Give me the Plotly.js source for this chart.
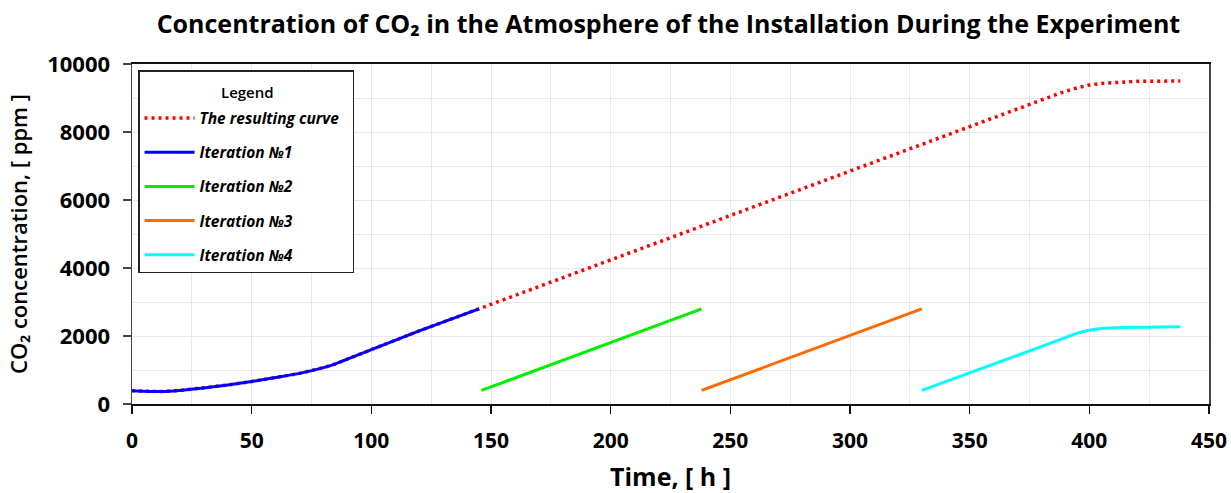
<!DOCTYPE html>
<html>
<head>
<meta charset="utf-8">
<script src="https://cdn.plot.ly/plotly-3.0.1.min.js"></script>
<style>html,body{margin:0;padding:0;background:#fff;}#chart{width:1231px;height:493px;}</style>
</head>
<body>
<div id="chart"></div>
<script>
// Resulting curve (dotted red)
const resultX = [0, 5, 12, 20, 30, 40, 50, 60, 70, 80, 85, 100, 120, 145, 388, 395, 400, 405, 412, 420, 438];
const resultY = [390, 375, 365, 400, 470, 560, 660, 780, 900, 1070, 1180, 1600, 2150, 2800, 9150, 9300, 9380, 9430, 9470, 9490, 9500];
// Iteration 1
const it1X = [0, 5, 12, 20, 30, 40, 50, 60, 70, 80, 85, 100, 120, 145];
const it1Y = [390, 375, 365, 400, 470, 560, 660, 780, 900, 1070, 1180, 1600, 2150, 2800];
// Iteration 2
const it2X = [146, 238];
const it2Y = [400, 2800];
// Iteration 3
const it3X = [238, 330];
const it3Y = [400, 2800];
// Iteration 4
const it4X = [330, 388, 395, 400, 405, 415, 438];
const it4Y = [400, 1900, 2080, 2170, 2220, 2250, 2270];

const names = ['The resulting curve\u00a0\u00a0', 'Iteration №1', 'Iteration №2', 'Iteration №3', 'Iteration №4'];
const legendTitle = 'Legend';
const xTicks = [0, 50, 100, 150, 200, 250, 300, 350, 400, 450];
const yTicks = [0, 2000, 4000, 6000, 8000, 10000];

const traces = [
  {x: resultX, y: resultY, name: names[0], mode: 'lines', legendgroup: 'a',
   line: {color: '#ff0000', width: 3.5, dash: '3px,4px'}},
  {x: it1X, y: it1Y, name: names[1], mode: 'lines', legendgroup: 'b',
   line: {color: '#0000ff', width: 3, shape: 'spline', smoothing: 0.6}},
  {x: it2X, y: it2Y, name: names[2], mode: 'lines', legendgroup: 'c',
   line: {color: '#00ee00', width: 3}},
  {x: it3X, y: it3Y, name: names[3], mode: 'lines', legendgroup: 'd',
   line: {color: '#ff6a00', width: 3}},
  {x: it4X, y: it4Y, name: names[4], mode: 'lines', legendgroup: 'e',
   line: {color: '#00ffff', width: 3, shape: 'spline', smoothing: 0.6}}
];

const layout = {
  width: 1231, height: 493,
  margin: {l: 132, r: 22, t: 64, b: 89},
  paper_bgcolor: '#fff', plot_bgcolor: '#fff',
  font: {family: 'Open Sans, sans-serif', color: '#000'},
  title: {text: '<b>Concentration of CO₂ in the Atmosphere of the Installation During the Experiment</b>',
          font: {size: 25, family: 'Open Sans, sans-serif', color: '#000'},
          x: 0.543, xanchor: 'center', y: 0.95, yanchor: 'middle'},
  xaxis: {
    range: [0, 450], tickvals: xTicks, ticktext: xTicks.map(String),
    showgrid: true, gridcolor: '#e8e8e8', gridwidth: 1,
    minor: {dtick: 25, showgrid: true, gridcolor: '#e8e8e8', gridwidth: 1},
    zeroline: false,
    showline: true, linecolor: '#111', linewidth: 2, mirror: true,
    ticks: 'outside', ticklen: 8, tickwidth: 1.5, tickcolor: '#111',
    ticklabelstandoff: 9,
    tickfont: {size: 21, family: 'Open Sans, sans-serif', weight: 'bold'},
    title: {text: '<b>Time, [ h ]</b>', font: {size: 25}, standoff: 15}
  },
  yaxis: {
    range: [0, 10000], tickvals: yTicks, ticktext: yTicks.map(String),
    showgrid: true, gridcolor: '#e8e8e8', gridwidth: 1,
    minor: {dtick: 1000, showgrid: true, gridcolor: '#e8e8e8', gridwidth: 1},
    zeroline: false,
    showline: true, linecolor: '#444', linewidth: 1.5, mirror: true,
    ticks: 'outside', ticklen: 8, tickwidth: 1.5, tickcolor: '#444',
    ticklabelstandoff: 8,
    tickfont: {size: 22, family: 'Open Sans, sans-serif', weight: 'bold'},
    title: {text: '\u00a0\u00a0\u00a0\u00a0CO₂ concentration, [ ppm ]', font: {size: 22, weight: 600}, standoff: 13}
  },
  legend: {
    x: 0.0056, y: 0.982, xanchor: 'left', yanchor: 'top',
    bgcolor: '#fff', bordercolor: '#222', borderwidth: 1.5,
    title: {text: '\u00a0', side: 'top', font: {size: 23, color: '#000', style: 'normal'}},
    font: {size: 15.5, style: 'italic', weight: 'bold', color: '#000'},
    itemwidth: 50, tracegroupgap: 11, traceorder: 'grouped'
  },
  annotations: [{
    text: legendTitle, xref: 'paper', yref: 'paper', x: 0.1077, y: 0.9176,
    xanchor: 'center', yanchor: 'middle', showarrow: false,
    font: {size: 15, weight: 600, color: '#000'}
  }],
  showlegend: true
};

Plotly.newPlot('chart', traces, layout, {displayModeBar: false, staticPlot: true});
</script>
</body>
</html>
